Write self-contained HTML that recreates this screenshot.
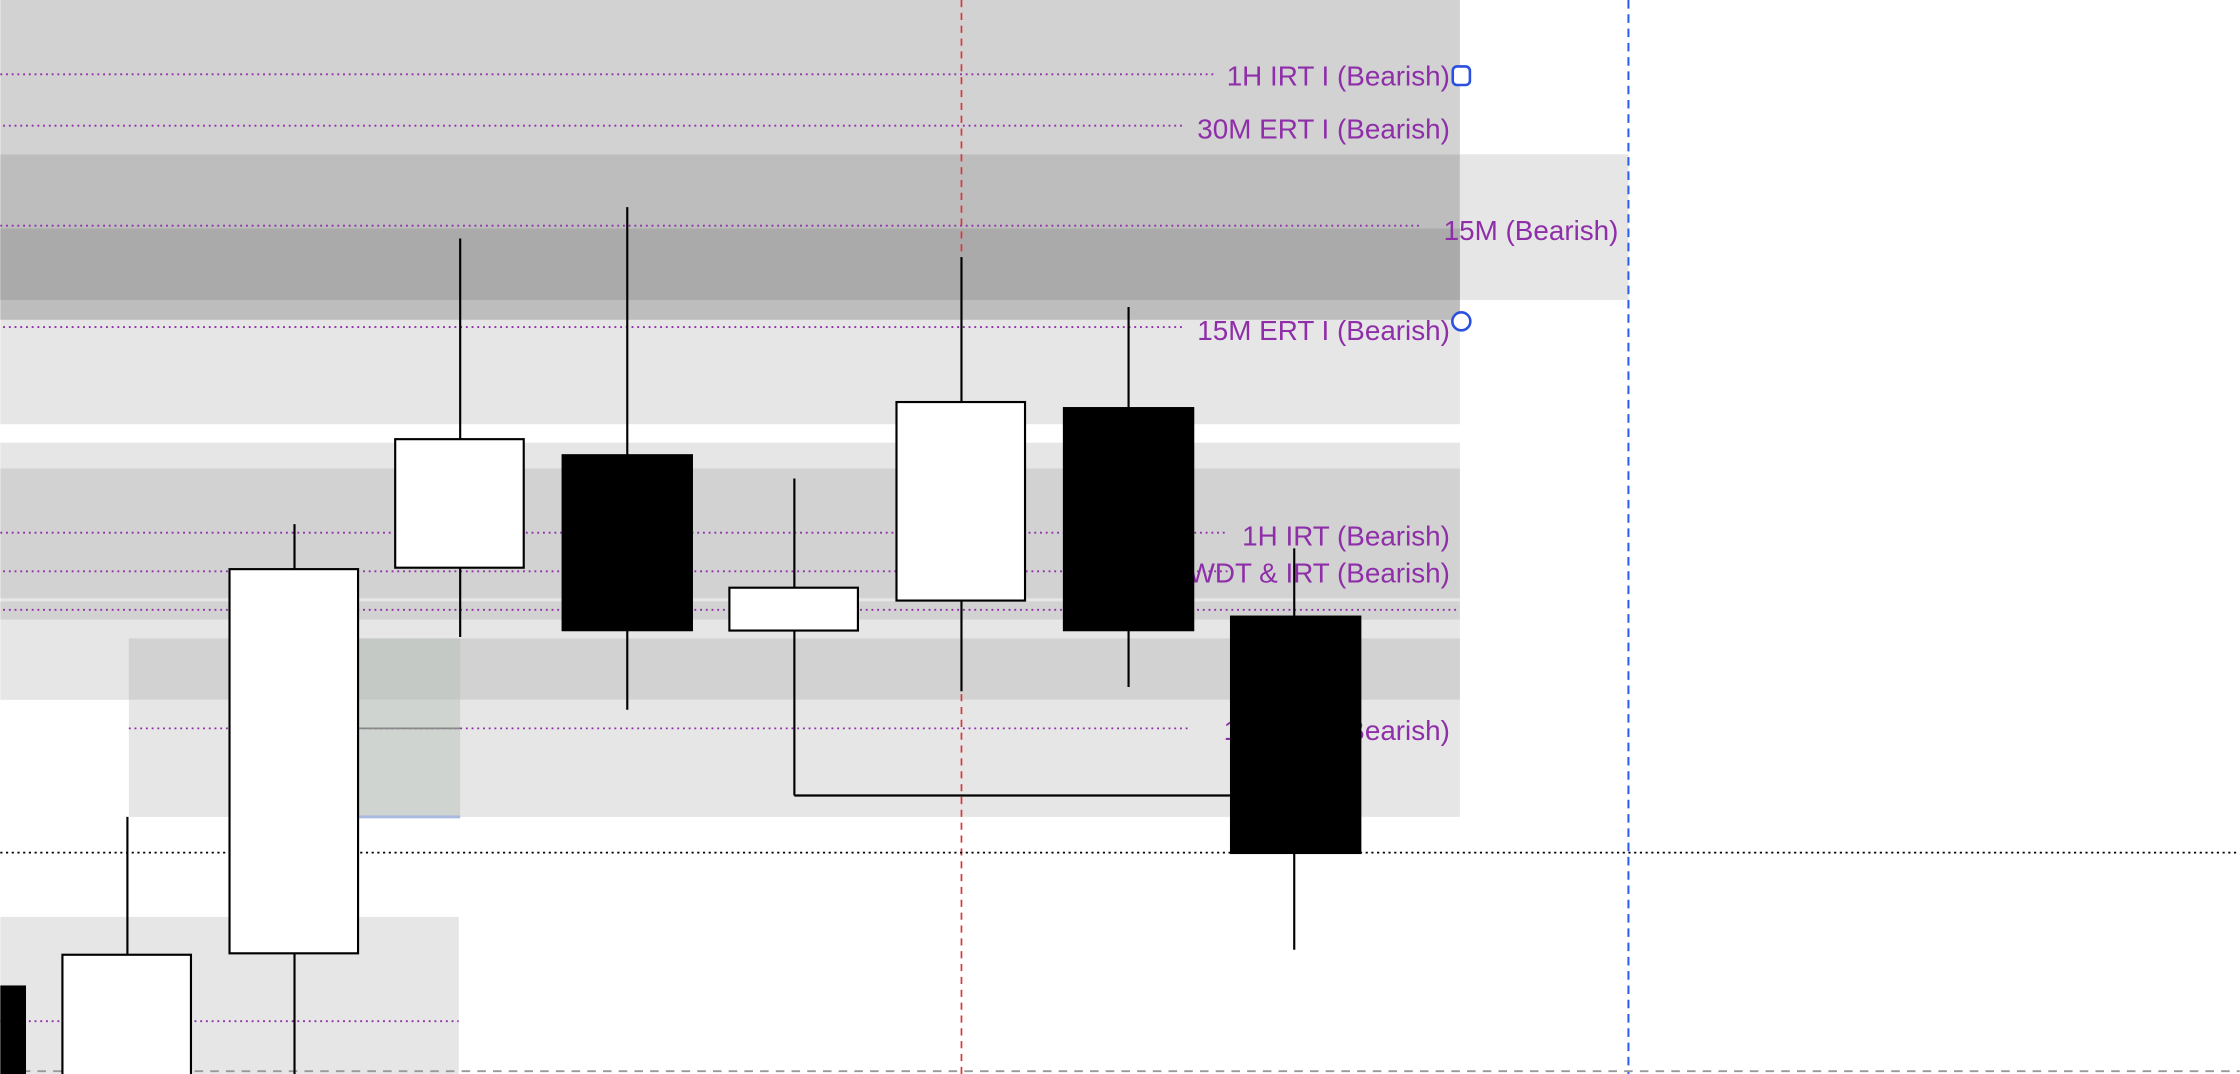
<!DOCTYPE html>
<html><head><meta charset="utf-8"><style>html,body{margin:0;padding:0;background:#fff;overflow:hidden}svg{display:block}</style></head>
<body>
<svg width="2240" height="1074" viewBox="0 0 1568 752" xmlns="http://www.w3.org/2000/svg">
<rect width="1568" height="752" fill="#fff"/>
<!-- bands -->
<rect x="0" y="0" width="1022" height="108" fill="#d2d2d2"/>
<rect x="0" y="108" width="1022" height="116" fill="#bdbdbd"/>
<rect x="1022" y="108" width="118" height="102" fill="#e6e6e6"/>
<rect x="0" y="160" width="1022" height="50" fill="#aaaaaa"/>
<rect x="0" y="224" width="1022" height="73" fill="#e6e6e6"/>
<rect x="0" y="310" width="1022" height="18" fill="#e6e6e6"/>
<rect x="0" y="328" width="1022" height="91" fill="#d2d2d2"/>
<rect x="0" y="419" width="1022" height="2" fill="#e6e6e6"/>
<rect x="0" y="421" width="1022" height="13" fill="#d2d2d2"/>
<rect x="0" y="434" width="1022" height="56" fill="#e6e6e6"/>
<rect x="90" y="447" width="932" height="43" fill="#d2d2d2"/>
<rect x="90" y="490" width="932" height="82" fill="#e6e6e6"/>
<rect x="251" y="447" width="71" height="43" fill="#c5c9c5"/>
<rect x="251" y="490" width="71" height="82" fill="#d0d4d0"/>
<rect x="251" y="571" width="71" height="2" fill="#a9b9e0"/>
<rect x="0" y="642" width="321" height="110" fill="#e6e6e6"/>
<!-- dotted purple lines -->
<g stroke="#8e2ea8" stroke-width="1.3" stroke-dasharray="1.3 2.7">
<line x1="0" y1="52" x2="850" y2="52"/>
<line x1="2" y1="88" x2="828" y2="88"/>
<line x1="0" y1="158" x2="995" y2="158"/>
<line x1="2" y1="229" x2="828" y2="229"/>
<line x1="0" y1="373" x2="860" y2="373"/>
<line x1="2" y1="400" x2="860" y2="400"/>
<line x1="2" y1="427" x2="1022" y2="427"/>
<line x1="90" y1="510" x2="832" y2="510"/>
<line x1="0" y1="715" x2="321" y2="715"/>
</g>
<line x1="251" y1="510" x2="322" y2="510" stroke="#888" stroke-width="1.3"/>
<!-- labels -->
<g font-family="Liberation Sans, sans-serif" font-size="19.5" fill="#8e2ea8" text-anchor="end">
<text x="1015" y="60">1H IRT I (Bearish)</text>
<text x="1015" y="97">30M ERT I (Bearish)</text>
<text x="1133" y="168">15M (Bearish)</text>
<text x="1015" y="238">15M ERT I (Bearish)</text>
<text x="1015" y="382">1H IRT (Bearish)</text>
<text x="1015" y="408">WDT &amp; IRT (Bearish)</text>
<text x="1015" y="518">15M IRT (Bearish)</text>
</g>
<!-- vertical / horizontal reference lines -->
<line x1="673" y1="0" x2="673" y2="752" stroke="#d9373a" stroke-width="1.2" stroke-dasharray="5 4"/>
<line x1="1140" y1="0" x2="1140" y2="752" stroke="#2b5cf0" stroke-width="1.4" stroke-dasharray="6 4"/>
<line x1="0" y1="597" x2="1568" y2="597" stroke="#000" stroke-width="1.2" stroke-dasharray="1.5 2.5"/>
<line x1="4" y1="750" x2="1568" y2="750" stroke="#999" stroke-width="1.3" stroke-dasharray="6 5"/>
<!-- candles -->
<g stroke="#000" stroke-width="1.5">
<line x1="89" y1="572" x2="89" y2="668"/>
<line x1="206" y1="367" x2="206" y2="752"/>
<line x1="322" y1="167" x2="322" y2="446"/>
<line x1="439" y1="145" x2="439" y2="497"/>
<line x1="556" y1="335" x2="556" y2="557"/>
<line x1="556" y1="557" x2="861" y2="557"/>
<line x1="673" y1="180" x2="673" y2="484"/>
<line x1="790" y1="215" x2="790" y2="481"/>
<line x1="906" y1="384" x2="906" y2="665"/>
</g>
<rect x="0" y="690" width="18" height="62" fill="#000"/>
<g fill="#fff" stroke="#000" stroke-width="1.5">
<rect x="43.5" y="668.5" width="90" height="90"/>
<rect x="160.5" y="398.5" width="90" height="269"/>
<rect x="276.5" y="307.5" width="90" height="90"/>
<rect x="510.5" y="411.5" width="90" height="30"/>
<rect x="627.5" y="281.5" width="90" height="139"/>
</g>
<rect x="393" y="318" width="92" height="124" fill="#000"/>
<rect x="744" y="285" width="92" height="157" fill="#000"/>
<rect x="861" y="431" width="92" height="167" fill="#000"/>
<!-- handles -->
<rect x="1017" y="46.5" width="12" height="13" rx="3" fill="#fff" stroke="#2b4fe0" stroke-width="1.8"/>
<circle cx="1023" cy="225" r="6.3" fill="#fff" stroke="#2b4fe0" stroke-width="1.8"/>
</svg>
</body></html>
